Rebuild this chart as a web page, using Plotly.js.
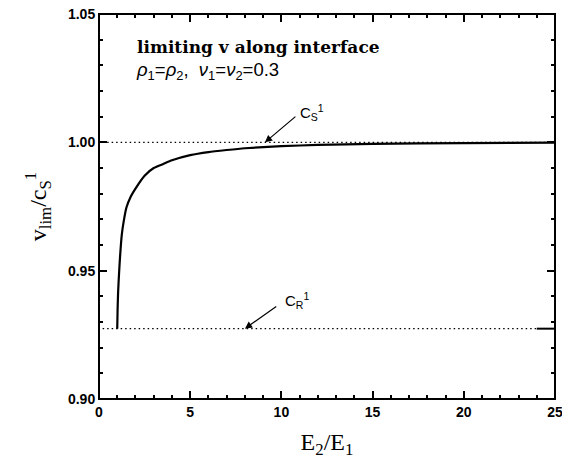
<!DOCTYPE html>
<html><head><meta charset="utf-8">
<script src="https://cdn.plot.ly/plotly-3.0.1.min.js"></script>
<style>html,body{margin:0;padding:0;background:#fff}#p{width:562px;height:470px}</style>
</head><body><div id="p"></div>
<script>
// Data
const ratioE = [1, 1.02, 1.05, 1.1, 1.15, 1.25, 1.35, 1.5, 1.75, 2, 2.5, 3, 3.5, 4, 5, 6, 7, 8, 10, 12, 15, 20, 25];
const vLim   = [0.9274, 0.935, 0.942, 0.949, 0.955, 0.964, 0.969, 0.9745, 0.979, 0.982, 0.987, 0.990, 0.9915, 0.993, 0.995, 0.9962, 0.997, 0.9977, 0.9985, 0.999, 0.9994, 0.9997, 0.9999];
const cS = 1.0;
const cR = 0.9274;
const refX = [0.2, 25];
const cRX = [0.2, 24];
const tailX = [24, 25];
const xTickVals = [0, 5, 10, 15, 20, 25];
const yTickVals = [0.90, 0.95, 1.00, 1.05];
const yTickText = ['0.90', '0.95', '1.00', '1.05'];

const traces = [
  {x: refX, y: [cS, cS], mode: 'lines', line: {color: '#000', width: 1.3, dash: '1.5px,3px'}, hoverinfo: 'skip'},
  {x: cRX, y: [cR, cR], mode: 'lines', line: {color: '#000', width: 1.3, dash: '1.5px,3px'}, hoverinfo: 'skip'},
  {x: tailX, y: [cR, cR], mode: 'lines', line: {color: '#000', width: 2}, hoverinfo: 'skip'},
  {x: ratioE, y: vLim, mode: 'lines', line: {color: '#000', width: 2.2, shape: 'spline', smoothing: 0.5}}
];

const tickFont = {family: 'Liberation Sans, Arial, sans-serif', size: 14, color: '#000', weight: 'bold'};
const titleFont = {family: 'Liberation Serif, Times New Roman, serif', size: 24, color: '#000'};

const layout = {
  width: 562, height: 470,
  margin: {l: 99, r: 7, t: 14, b: 71},
  paper_bgcolor: '#fff', plot_bgcolor: '#fff',
  showlegend: false,
  xaxis: {
    range: [0, 25], tickmode: 'array', tickvals: xTickVals,
    showgrid: false, showline: true, linecolor: '#000',
    mirror: 'ticks', ticks: 'inside', tickcolor: '#000', tickwidth: 2, ticklen: 8,
    ticklabeloverflow: 'allow',
    tickfont: tickFont,
    minor: {tickmode: 'linear', tick0: 0, dtick: 1, ticks: 'inside', ticklen: 4, tickcolor: '#000', tickwidth: 2},
    title: {text: 'E<sub>2</sub>/E<sub>1</sub>', font: titleFont, standoff: 14}
  },
  yaxis: {
    range: [0.90, 1.05], tickmode: 'array', tickvals: yTickVals, ticktext: yTickText,
    showgrid: false, showline: true, linecolor: '#000',
    mirror: 'ticks', ticks: 'inside', tickcolor: '#000', tickwidth: 2, ticklen: 8,
    tickfont: tickFont,
    minor: {tickmode: 'linear', tick0: 0.9, dtick: 0.01, ticks: 'inside', ticklen: 4, tickcolor: '#000', tickwidth: 2},
    title: {text: 'v<sub>lim</sub>/c<sub>S</sub><sup>1</sup>', font: titleFont, standoff: 14}
  },
  shapes: [
    {type: 'rect', xref: 'paper', yref: 'paper', x0: 0, x1: 1, y0: 0, y1: 1, line: {color: '#000', width: 2}, layer: 'above'}
  ],
  annotations: [
    {xref: 'paper', yref: 'paper', x: 0.08, y: 0.915, xanchor: 'left', yanchor: 'middle', showarrow: false,
     text: '<b>limiting v along interface</b>', font: {family: 'DejaVu Serif, serif', size: 17, color: '#000'}},
    {xref: 'paper', yref: 'paper', x: 0.076, y: 0.853, xanchor: 'left', yanchor: 'middle', showarrow: false,
     text: '<i>ρ</i><sub>1</sub>=<i>ρ</i><sub>2</sub>,  <i>ν</i><sub>1</sub>=<i>ν</i><sub>2</sub>=0.3', font: {family: 'Liberation Sans, Arial, sans-serif', size: 18.5, color: '#000'}},
    {xref: 'x', yref: 'y', axref: 'x', ayref: 'y', x: 9.1, y: 1.0, ax: 10.85, ay: 1.0105, text: '',
     showarrow: true, arrowhead: 2, arrowsize: 1.2, arrowwidth: 1.2, arrowcolor: '#000', standoff: 0},
    {xref: 'x', yref: 'y', x: 10.9, y: 1.0115, xanchor: 'left', yanchor: 'middle', showarrow: false,
     text: 'C<sub>S</sub><sup>1</sup>', font: {family: 'Liberation Sans, Arial, sans-serif', size: 15, color: '#000'}},
    {xref: 'x', yref: 'y', axref: 'x', ayref: 'y', x: 8.0, y: cR, ax: 9.8, ay: 0.9365, text: '',
     showarrow: true, arrowhead: 2, arrowsize: 1.2, arrowwidth: 1.2, arrowcolor: '#000', standoff: 0},
    {xref: 'x', yref: 'y', x: 10.1, y: 0.9385, xanchor: 'left', yanchor: 'middle', showarrow: false,
     text: 'C<sub>R</sub><sup>1</sup>', font: {family: 'Liberation Sans, Arial, sans-serif', size: 15, color: '#000'}}
  ]
};

Plotly.newPlot('p', traces, layout, {staticPlot: true, displayModeBar: false});
</script>
</body></html>
